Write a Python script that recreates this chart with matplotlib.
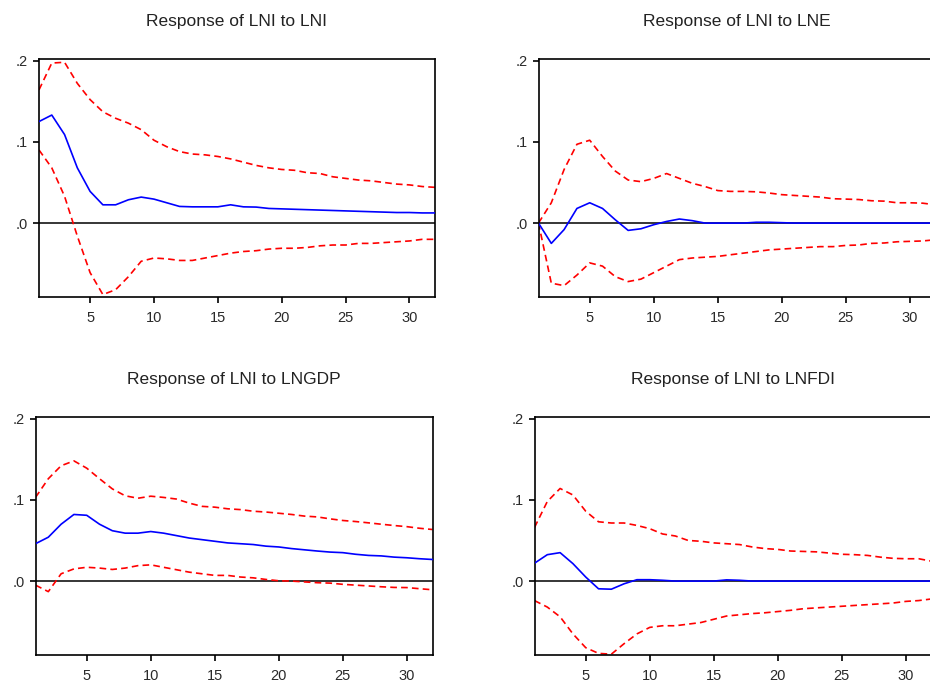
"""Impulse responses of LNI with +/- 2 S.E. bands (EViews style)."""

import matplotlib

matplotlib.use("Agg")
import matplotlib.pyplot as plt
from matplotlib.ticker import FixedLocator, FuncFormatter

plt.rcParams["font.family"] = ["Liberation Sans", "DejaVu Sans"]

periods = list(range(1, 33))
x_ticks = [5, 10, 15, 20, 25, 30]
y_ticks = [0.0, 0.1, 0.2]

titles = [
    "Response of LNI to LNI",
    "Response of LNI to LNE",
    "Response of LNI to LNGDP",
    "Response of LNI to LNFDI",
]

# LNI -> LNI
resp_lni = [0.125, 0.133, 0.109, 0.068, 0.039, 0.0225, 0.0225, 0.0287, 0.032, 0.0295,
            0.025, 0.0205, 0.020, 0.020, 0.020, 0.0225, 0.020, 0.0197, 0.018, 0.0175,
            0.017, 0.0165, 0.016, 0.0155, 0.015, 0.0145, 0.014, 0.0135, 0.013, 0.013,
            0.0125, 0.0125]
upper_lni = [0.164, 0.197, 0.198, 0.172, 0.152, 0.137, 0.129, 0.123, 0.115, 0.102,
             0.094, 0.088, 0.085, 0.084, 0.082, 0.079, 0.075, 0.071, 0.068, 0.066,
             0.065, 0.062, 0.061, 0.057, 0.055, 0.053, 0.052, 0.050, 0.048, 0.047,
             0.045, 0.044]
lower_lni = [0.090, 0.068, 0.033, -0.016, -0.061, -0.088, -0.082, -0.066, -0.047, -0.043,
             -0.044, -0.046, -0.046, -0.043, -0.040, -0.037, -0.035, -0.034, -0.032, -0.031,
             -0.031, -0.030, -0.028, -0.027, -0.027, -0.025, -0.025, -0.024, -0.023, -0.022,
             -0.020, -0.020]

# LNI -> LNE
resp_lne = [0.0, -0.025, -0.008, 0.018, 0.025, 0.018, 0.004, -0.009, -0.007, -0.002,
            0.002, 0.005, 0.003, 0.0, 0.0, 0.0, 0.0, 0.001, 0.001, 0.0005,
            0.0, 0.0, 0.0, 0.0, 0.0, 0.0, 0.0, 0.0, 0.0, 0.0,
            0.0, 0.0]
upper_lne = [0.0, 0.025, 0.066, 0.097, 0.102, 0.082, 0.064, 0.053, 0.051, 0.055,
             0.061, 0.055, 0.049, 0.045, 0.040, 0.039, 0.039, 0.0385, 0.037, 0.035,
             0.034, 0.033, 0.032, 0.030, 0.0295, 0.029, 0.0275, 0.027, 0.025, 0.025,
             0.0245, 0.0225]
lower_lne = [0.0, -0.074, -0.077, -0.064, -0.049, -0.053, -0.066, -0.072, -0.069, -0.061,
             -0.053, -0.045, -0.043, -0.042, -0.041, -0.039, -0.037, -0.035, -0.033, -0.032,
             -0.031, -0.030, -0.029, -0.029, -0.0275, -0.027, -0.025, -0.0245, -0.023, -0.0225,
             -0.022, -0.0205]

# LNI -> LNGDP
resp_lngdp = [0.046, 0.054, 0.070, 0.082, 0.081, 0.070, 0.062, 0.059, 0.059, 0.061,
              0.059, 0.056, 0.053, 0.051, 0.049, 0.047, 0.046, 0.045, 0.043, 0.042,
              0.040, 0.0385, 0.037, 0.0357, 0.035, 0.033, 0.0316, 0.031, 0.0295, 0.0287,
              0.0275, 0.0266]
upper_lngdp = [0.103, 0.126, 0.142, 0.148, 0.139, 0.126, 0.1135, 0.105, 0.102, 0.1045,
               0.103, 0.101, 0.096, 0.092, 0.091, 0.089, 0.088, 0.086, 0.085, 0.0835,
               0.082, 0.080, 0.079, 0.0766, 0.0746, 0.0733, 0.0717, 0.070, 0.0684, 0.067,
               0.065, 0.0635]
lower_lngdp = [-0.005, -0.013, 0.009, 0.015, 0.017, 0.016, 0.0143, 0.016, 0.019, 0.020,
               0.017, 0.014, 0.011, 0.009, 0.007, 0.007, 0.005, 0.004, 0.002, 0.0004,
               0.0, -0.001, -0.002, -0.0025, -0.004, -0.005, -0.006, -0.007, -0.0078, -0.008,
               -0.0094, -0.0107]

# LNI -> LNFDI
resp_lnfdi = [0.022, 0.0325, 0.035, 0.0215, 0.005, -0.0095, -0.010, -0.0033, 0.0017, 0.0017,
              0.001, 0.0, 0.0, 0.0, 0.0, 0.0015, 0.001, 0.0, 0.0, 0.0,
              0.0, 0.0, 0.0, 0.0, 0.0, 0.0, 0.0, 0.0, 0.0, 0.0,
              0.0, 0.0]
upper_lnfdi = [0.066, 0.098, 0.114, 0.106, 0.086, 0.073, 0.0715, 0.0715, 0.0685, 0.0645,
               0.058, 0.0555, 0.050, 0.049, 0.047, 0.046, 0.045, 0.042, 0.040, 0.039,
               0.037, 0.0365, 0.036, 0.0345, 0.033, 0.0325, 0.0316, 0.0295, 0.028, 0.0275,
               0.0275, 0.0245]
lower_lnfdi = [-0.024, -0.032, -0.044, -0.065, -0.082, -0.089, -0.090, -0.077, -0.065, -0.057,
               -0.055, -0.055, -0.053, -0.051, -0.047, -0.043, -0.0415, -0.040, -0.039, -0.0375,
               -0.036, -0.034, -0.033, -0.032, -0.031, -0.030, -0.029, -0.028, -0.027, -0.025,
               -0.024, -0.022]

panels = [
    (resp_lni, upper_lni, lower_lni),
    (resp_lne, upper_lne, lower_lne),
    (resp_lngdp, upper_lngdp, lower_lngdp),
    (resp_lnfdi, upper_lnfdi, lower_lnfdi),
]

W, H = 930, 684
# axes boxes in pixels: left, top, right, bottom (right panels run past the edge)
boxes = [
    (39, 59, 435, 297),
    (538.5, 59, 935.5, 297),
    (35.5, 417, 432.5, 655),
    (534.5, 417, 931.5, 655),
]


def eviews_label(value, _pos):
    return f"{value:.1f}".lstrip("0").replace("-0", "-")


def style_axes(ax):
    for spine in ax.spines.values():
        spine.set_linewidth(1.2)
        spine.set_color("black")
    ax.set_xlim(1, 32)
    ax.set_ylim(-0.091, 0.202)
    ax.xaxis.set_major_locator(FixedLocator(x_ticks))
    ax.yaxis.set_major_locator(FixedLocator(y_ticks))
    ax.yaxis.set_major_formatter(FuncFormatter(eviews_label))
    ax.tick_params(direction="out", length=4, width=1.2,
                   labelsize=10.5, labelcolor="#2a2a2a", top=False, right=False)
    ax.tick_params(axis="x", pad=6)
    ax.tick_params(axis="y", pad=4)


fig = plt.figure(figsize=(W / 100, H / 100), dpi=100)

for (resp, upper, lower), title, (x0, y0, x1, y1) in zip(panels, titles, boxes):
    ax = fig.add_axes([x0 / W, 1 - y1 / H, (x1 - x0) / W, (y1 - y0) / H])
    ax.axhline(0, color="black", linewidth=1.1, zorder=1)
    ax.plot(periods, upper, color="red", linewidth=1.2, linestyle=(0, (4, 2.5)), zorder=2)
    ax.plot(periods, lower, color="red", linewidth=1.2, linestyle=(0, (4, 2.5)), zorder=2)
    ax.plot(periods, resp, color="blue", linewidth=1.2, zorder=3)
    style_axes(ax)
    ax.set_title(title, fontsize=12.5, color="#222222", pad=24)

fig.savefig("out.png", dpi=100)
